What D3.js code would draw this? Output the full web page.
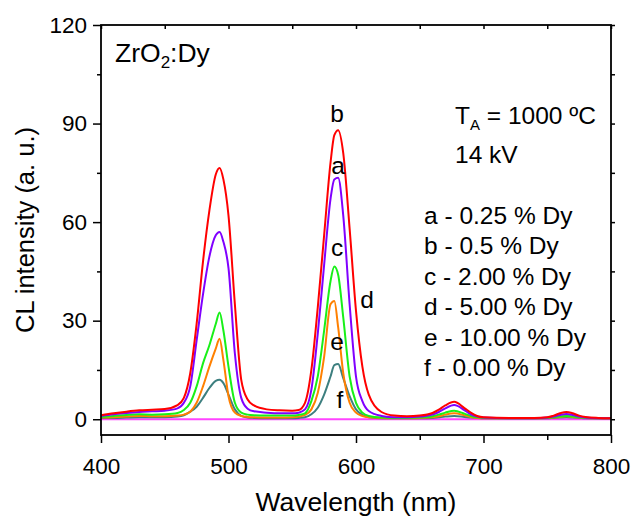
<!DOCTYPE html>
<html>
<head>
<meta charset="utf-8">
<script src="https://cdn.jsdelivr.net/npm/d3@7"></script>
<style>
  body { margin: 0; background: #fff; }
  svg { font-family: "Liberation Sans", Arial, sans-serif; }
</style>
</head>
<body>
<svg width="632" height="518"></svg>
<script>
// wavelengths (nm) shared by the doped samples
const wavelength = [400, 410, 420, 430, 440, 450, 460, 465, 470, 475, 480, 485, 490, 493, 496, 500,
  505, 510, 515, 520, 530, 540, 550, 555, 560, 565, 570, 575, 580, 583, 586, 590, 595, 600,
  605, 610, 620, 630, 640, 650, 660, 665, 670, 677, 685, 690, 695, 700, 720, 740, 750, 755, 760, 765,
  770, 775, 780, 790, 800];

// a - 0.25 % Dy
const seriesA = [1.0, 1.5, 1.9, 2.2, 2.4, 2.6, 3.3, 5, 10, 24, 38, 49.5, 56, 57, 54, 46,
  20, 6.5, 3.2, 2.4, 2.0, 1.8, 1.8, 2.0, 3, 9, 26, 47, 67, 73, 73.5, 62, 35, 13,
  5.5, 2.5, 1.0, 0.6, 0.6, 0.8, 1.4, 2.2, 3.3, 4.3, 2.8, 1.5, 0.8, 0.5, 0.3, 0.3, 0.5, 0.8, 1.3, 1.6,
  1.3, 0.8, 0.5, 0.3, 0.3];
// b - 0.5 % Dy
const seriesB = [1.2, 1.8, 2.3, 2.7, 2.9, 3.1, 4.3, 6.5, 14, 29, 48, 63.5, 74.5, 76.5, 73, 62,
  35, 12, 6, 4.2, 3, 2.7, 2.6, 2.8, 5, 15, 34, 56, 78, 86.5, 88, 81, 58, 33,
  16, 7.5, 2.2, 1.1, 0.9, 1.1, 1.9, 2.9, 4.2, 5.3, 3.4, 2.0, 1.0, 0.6, 0.4, 0.4, 0.6, 1.1, 1.8, 2.2,
  1.8, 1.1, 0.7, 0.4, 0.3];
// c - 2.00 % Dy
const seriesC = [0.7, 1.0, 1.3, 1.5, 1.4, 1.5, 1.9, 2.8, 5, 10, 17, 22.5, 29, 32.5, 27, 16,
  5, 2, 1.4, 1.2, 1.1, 1.1, 1.1, 1.3, 1.8, 5.5, 13, 27, 42, 46.5, 44, 31, 13, 5,
  2, 1, 0.5, 0.4, 0.4, 0.5, 0.9, 1.4, 2.0, 2.6, 1.7, 1.0, 0.6, 0.4, 0.3, 0.3, 0.4, 0.6, 0.8, 1.0,
  0.8, 0.6, 0.4, 0.3, 0.3];
// d - 5.00 % Dy
const seriesD = [0.5, 0.6, 0.8, 1.0, 0.9, 0.9, 1.1, 1.4, 2.3, 5, 10, 16, 21.5, 24.5, 18, 7,
  2, 1, 0.7, 0.6, 0.5, 0.5, 0.6, 0.8, 1.3, 3, 8, 19, 35, 36, 28, 14, 5, 2,
  1, 0.6, 0.4, 0.3, 0.3, 0.4, 0.6, 0.9, 1.4, 1.8, 1.2, 0.7, 0.4, 0.3, 0.3, 0.3, 0.4, 0.5, 0.7, 0.9,
  0.7, 0.5, 0.4, 0.3, 0.3];
// e - 10.00 % Dy
const seriesE = [0.4, 0.4, 0.5, 0.6, 0.6, 0.6, 0.8, 1.2, 2.3, 3.8, 6.5, 9.5, 11.7, 12, 11, 7.5,
  3, 1, 0.5, 0.4, 0.3, 0.3, 0.3, 0.4, 0.6, 1.5, 3.5, 7.5, 13, 16.5, 16.8, 12.5, 7, 3,
  1.3, 0.6, 0.3, 0.3, 0.3, 0.3, 0.4, 0.6, 0.8, 1.0, 0.7, 0.5, 0.4, 0.3, 0.3, 0.3, 0.3, 0.4, 0.5, 0.6,
  0.5, 0.4, 0.3, 0.3, 0.3];
// f - 0.00 % Dy (flat)
const wavelengthF = [400, 800];
const seriesF = [0, 0];

const legendLines = ["a - 0.25 % Dy", "b - 0.5 % Dy", "c - 2.00 % Dy", "d - 5.00 % Dy", "e - 10.00 % Dy", "f - 0.00 % Dy"];
const xTicks = [400, 500, 600, 700, 800];
const xMinorTicks = [450, 550, 650, 750];
const yTicks = [0, 30, 60, 90, 120];
const yMinorTicks = [15, 45, 75, 105];

const plotLeft = 101, plotRight = 611, plotTop = 25, plotBottom = 435;

const svg = d3.select("svg");

const xScale = d3.scaleLinear().domain([400, 800]).range([plotLeft, plotRight]);
const yScale = d3.scaleLinear().domain([-4.8, 120]).range([plotBottom, plotTop]);

const curves = [
  { x: wavelengthF, y: seriesF, color: "#ff44ff" },
  { x: wavelength, y: seriesE, color: "#3d7f7f" },
  { x: wavelength, y: seriesD, color: "#ff8000" },
  { x: wavelength, y: seriesC, color: "#18f018" },
  { x: wavelength, y: seriesA, color: "#8000ff" },
  { x: wavelength, y: seriesB, color: "#ff0000" }
];

const line = d3.line()
  .x((d) => xScale(d[0]))
  .y((d) => yScale(d[1]))
  .curve(d3.curveMonotoneX);

svg.append("g")
  .selectAll("path")
  .data(curves)
  .enter()
  .append("path")
  .attr("d", (c) => line(c.x.map((w, i) => [w, c.y[i]])))
  .attr("fill", "none")
  .attr("stroke", (c) => c.color)
  .attr("stroke-width", 2);

// axes
const styleAxis = (g) => {
  g.selectAll(".domain").remove();
  g.selectAll("line").attr("stroke", "#000").attr("stroke-width", 1.5);
  g.selectAll("text").attr("font-size", 22.5).attr("fill", "#000");
};

svg.append("g").attr("transform", `translate(0, ${plotBottom})`)
  .call(d3.axisBottom(xScale).tickValues(xTicks).tickSize(8).tickPadding(15).tickFormat(d3.format("d")))
  .call(styleAxis);
svg.append("g").attr("transform", `translate(0, ${plotBottom})`)
  .call(d3.axisBottom(xScale).tickValues(xMinorTicks).tickSize(5).tickFormat(""))
  .call(styleAxis);
svg.append("g").attr("transform", `translate(${plotLeft}, 0)`)
  .call(d3.axisLeft(yScale).tickValues(yTicks).tickSize(8).tickPadding(6))
  .call(styleAxis);
svg.append("g").attr("transform", `translate(${plotLeft}, 0)`)
  .call(d3.axisLeft(yScale).tickValues(yMinorTicks).tickSize(4).tickFormat(""))
  .call(styleAxis);
// top ticks point inward (down), right ticks point inward (left)
svg.append("g").attr("transform", `translate(0, ${plotTop})`)
  .call(d3.axisBottom(xScale).tickValues(xTicks.concat(xMinorTicks)).tickSize(4).tickFormat(""))
  .call(styleAxis);
svg.append("g").attr("transform", `translate(${plotRight}, 0)`)
  .call(d3.axisLeft(yScale).tickValues(yTicks.concat(yMinorTicks)).tickSize(-4).tickFormat(""))
  .call(styleAxis);

// frame
svg.append("rect")
  .attr("x", plotLeft).attr("y", plotTop)
  .attr("width", plotRight - plotLeft).attr("height", plotBottom - plotTop)
  .attr("fill", "none").attr("stroke", "#000").attr("stroke-width", 1.8);

// axis titles
svg.append("text")
  .attr("x", (plotLeft + plotRight) / 2).attr("y", 511)
  .attr("text-anchor", "middle").attr("font-size", 26.5)
  .text("Wavelength (nm)");
svg.append("text")
  .attr("transform", `translate(34, ${(plotTop + plotBottom) / 2}) rotate(-90)`)
  .attr("text-anchor", "middle").attr("font-size", 25.5)
  .text("CL intensity (a. u.)");

// annotations
const title = svg.append("text").attr("x", 115).attr("y", 62).attr("font-size", 26.5);
title.append("tspan").text("ZrO");
title.append("tspan").attr("font-size", 17).attr("dy", 6).text("2");
title.append("tspan").attr("dy", -6).text(":Dy");

const ta = svg.append("text").attr("x", 455).attr("y", 124).attr("font-size", 24.5);
ta.append("tspan").text("T");
ta.append("tspan").attr("font-size", 15).attr("dy", 6).text("A");
ta.append("tspan").attr("dy", -6).text(" = 1000 ºC");
svg.append("text").attr("x", 455).attr("y", 163).attr("font-size", 24.5).text("14 kV");

svg.append("g")
  .selectAll("text")
  .data(legendLines)
  .enter()
  .append("text")
  .attr("x", 424)
  .attr("y", (d, i) => 224 + i * 30.4)
  .attr("font-size", 24.5)
  .text((d) => d);

const curveLabels = [
  { t: "b", x: 337, y: 122 },
  { t: "a", x: 338, y: 174 },
  { t: "c", x: 337, y: 256 },
  { t: "d", x: 367, y: 308 },
  { t: "e", x: 337, y: 350 },
  { t: "f", x: 340, y: 408 }
];
svg.append("g")
  .selectAll("text")
  .data(curveLabels)
  .enter()
  .append("text")
  .attr("x", (d) => d.x).attr("y", (d) => d.y)
  .attr("text-anchor", "middle").attr("font-size", 24.5)
  .text((d) => d.t);
</script>
</body>
</html>
